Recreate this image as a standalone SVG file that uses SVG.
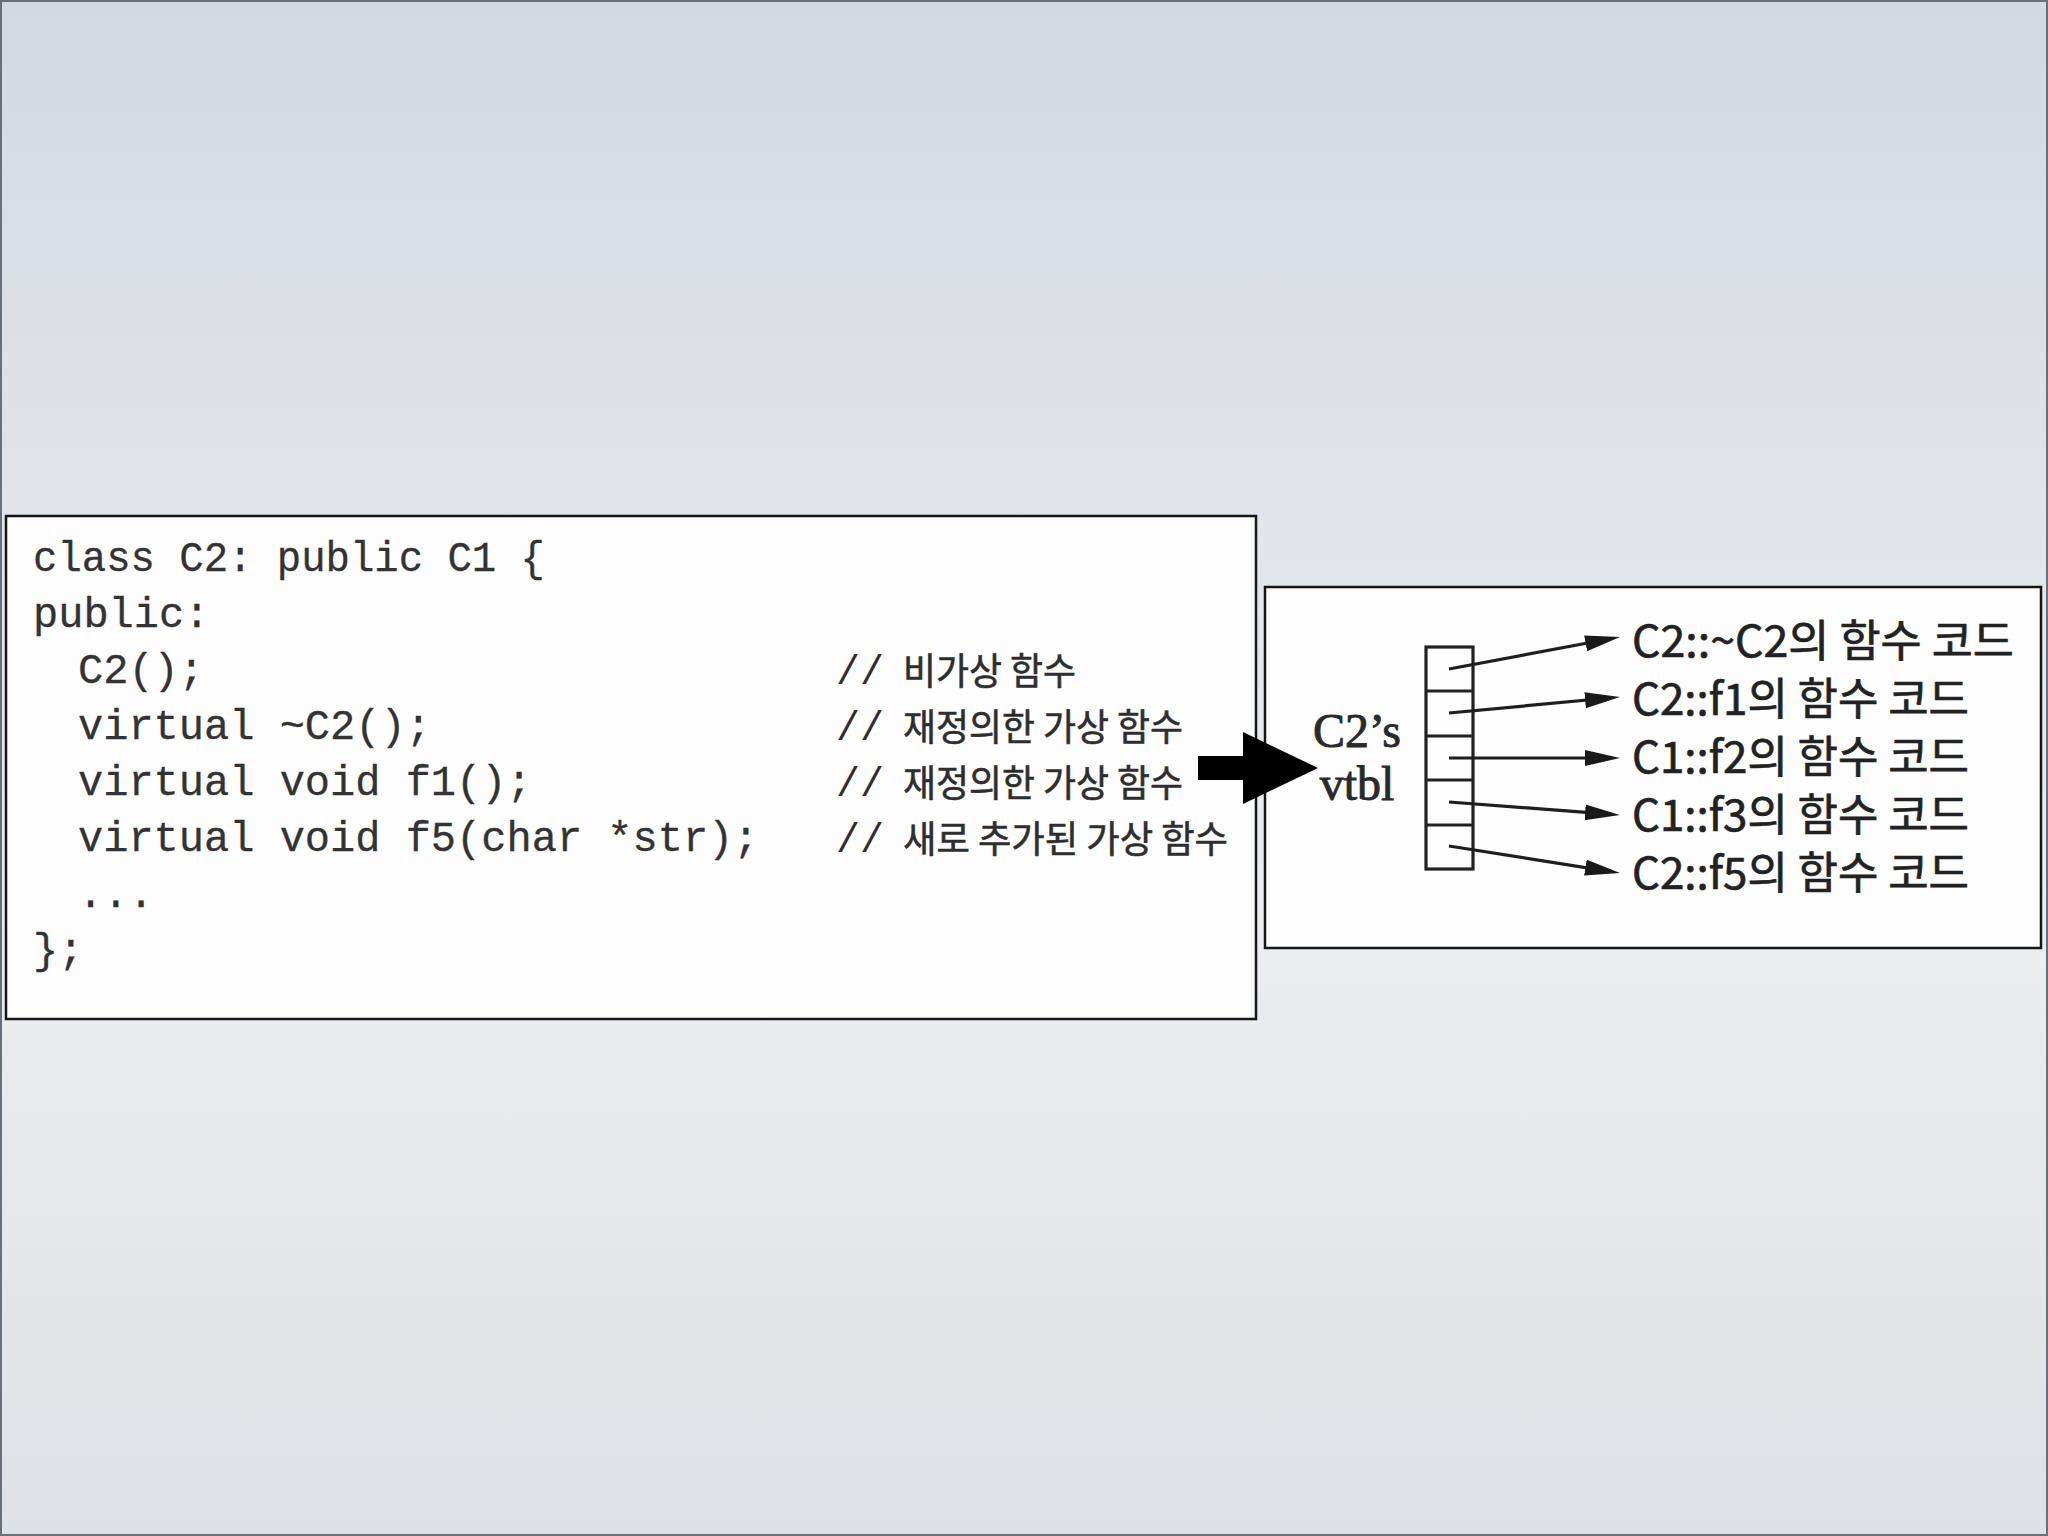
<svg xmlns="http://www.w3.org/2000/svg" width="2048" height="1536" viewBox="0 0 2048 1536">
  <defs>
    <linearGradient id="bg" x1="0" y1="0" x2="0" y2="1">
      <stop offset="0" stop-color="#d3d9e0"/>
      <stop offset="0.35" stop-color="#e2e5e9"/>
      <stop offset="0.6" stop-color="#eceef0"/>
      <stop offset="1" stop-color="#dee1e5"/>
    </linearGradient>
    <marker id="head" markerUnits="userSpaceOnUse" markerWidth="36" markerHeight="17" refX="24" refY="8" orient="auto">
      <path d="M0,0 L35,8 L0,16 z" fill="#1a1a1a"/>
    </marker>
    <style>
      .box { fill: #fdfdfd; stroke: #161616; stroke-width: 2.5; }
      .code { font-family: "Liberation Mono", "DejaVu Sans Mono", monospace; font-size: 42px; fill: #333; stroke: #333; stroke-width: 0.3; }
      .cmt { font-family: "Noto Sans CJK KR", "Noto Sans", sans-serif; font-size: 37px; fill: #2e2e2e; stroke: #2e2e2e; stroke-width: 0.6; }
      .slash { font-family: "Liberation Mono", monospace; font-size: 40px; fill: #2e2e2e; }
      .vt { font-family: "Liberation Serif", "Noto Sans CJK KR", serif; font-size: 48px; fill: #2a2a2a; stroke: #2a2a2a; stroke-width: 0.9; text-anchor: middle; }
      .lbl { font-family: "Noto Sans CJK KR", "Noto Sans", sans-serif; font-size: 44px; fill: #222; stroke: #222; stroke-width: 0.7; }
      .cell { fill: none; stroke: #222; stroke-width: 3.2; }
      .conn { stroke: #1e1e1e; stroke-width: 3.2; fill: none; }
    </style>
  </defs>

  <rect x="0" y="0" width="2048" height="1536" fill="url(#bg)"/>
  <rect x="1" y="1" width="2046" height="1534" fill="none" stroke="#6a7077" stroke-width="2"/>

  <g id="code-box">
    <rect class="box" x="6" y="516" width="1250" height="503"/>
    <text class="code" x="33" y="571" textLength="512" lengthAdjust="spacingAndGlyphs">class C2: public C1 {</text>
    <text class="code" x="33" y="627">public:</text>
    <text class="code" x="78" y="683">C2();</text>
    <text class="code" x="78" y="739">virtual ~C2();</text>
    <text class="code" x="78" y="795">virtual void f1();</text>
    <text class="code" x="78" y="851">virtual void f5(char *str);</text>
    <text class="code" x="78" y="907">...</text>
    <text class="code" x="33" y="963">};</text>
    <text class="slash" x="836" y="684">//</text>
    <text class="cmt" x="903" y="685" textLength="173" lengthAdjust="spacingAndGlyphs">비가상 함수</text>
    <text class="slash" x="836" y="740">//</text>
    <text class="cmt" x="903" y="741" textLength="280" lengthAdjust="spacingAndGlyphs">재정의한 가상 함수</text>
    <text class="slash" x="836" y="796">//</text>
    <text class="cmt" x="903" y="797" textLength="280" lengthAdjust="spacingAndGlyphs">재정의한 가상 함수</text>
    <text class="slash" x="836" y="852">//</text>
    <text class="cmt" x="903" y="853" textLength="325" lengthAdjust="spacingAndGlyphs">새로 추가된 가상 함수</text>
  </g>

  <g id="vtbl-box">
    <rect class="box" x="1265" y="587" width="776" height="361"/>
    <text class="vt" x="1357" y="747">C2’s</text>
    <text class="vt" x="1357" y="800">vtbl</text>
    <g id="vtbl">
      <rect class="cell" x="1426" y="647" width="47" height="222"/>
      <line class="cell" x1="1426" y1="691" x2="1473" y2="691"/>
      <line class="cell" x1="1426" y1="736" x2="1473" y2="736"/>
      <line class="cell" x1="1426" y1="780" x2="1473" y2="780"/>
      <line class="cell" x1="1426" y1="825" x2="1473" y2="825"/>
    </g>
    <text class="lbl" x="1632" y="657" textLength="382" lengthAdjust="spacingAndGlyphs">C2::~C2의 함수 코드</text>
    <text class="lbl" x="1632" y="715" textLength="337" lengthAdjust="spacingAndGlyphs">C2::f1의 함수 코드</text>
    <text class="lbl" x="1632" y="773" textLength="337" lengthAdjust="spacingAndGlyphs">C1::f2의 함수 코드</text>
    <text class="lbl" x="1632" y="831" textLength="337" lengthAdjust="spacingAndGlyphs">C1::f3의 함수 코드</text>
    <text class="lbl" x="1632" y="889" textLength="337" lengthAdjust="spacingAndGlyphs">C2::f5의 함수 코드</text>
  </g>

  <g id="connectors">
    <line class="conn" x1="1449" y1="669" x2="1609.2" y2="639" marker-end="url(#head)"/>
    <line class="conn" x1="1449" y1="713" x2="1609" y2="698" marker-end="url(#head)"/>
    <line class="conn" x1="1449" y1="758" x2="1609" y2="758" marker-end="url(#head)"/>
    <line class="conn" x1="1449" y1="802" x2="1609" y2="814.2" marker-end="url(#head)"/>
    <line class="conn" x1="1449" y1="846" x2="1609.1" y2="871.3" marker-end="url(#head)"/>
    <polygon id="big-arrow" points="1198,756 1243,756 1243,732 1318,768 1243,804 1243,780 1198,780" fill="#000"/>
  </g>
</svg>
